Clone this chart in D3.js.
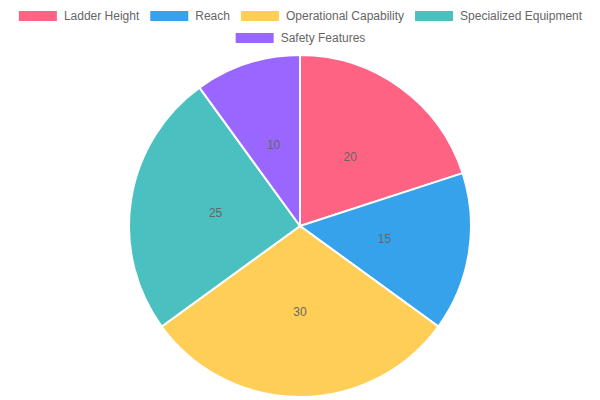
<!DOCTYPE html>
<html><head><meta charset="utf-8">
<script src="https://cdn.jsdelivr.net/npm/d3@7"></script>
<style>html,body{margin:0;padding:0;background:#fff;}svg{display:block;}</style>
</head><body>
<svg id="c" width="600" height="400"></svg>
<script>
const categories = ["Ladder Height", "Reach", "Operational Capability", "Specialized Equipment", "Safety Features"];
const values = [20, 15, 30, 25, 10];
const colors = ["#FF6384", "#36A2EB", "#FFCE56", "#4BC0C0", "#9966FF"];

const W = 600, H = 400;
const svg = d3.select("#c");
const font = "Helvetica Neue, Helvetica, Arial, Liberation Sans, sans-serif";

// Legend
const legend = svg.append("g");
const fs = 12, boxW = 40, pad = 10;
const items = categories.map((c, i) => {
  const t = legend.append("text").attr("font-family", font).attr("font-size", fs).attr("fill", "#666").text(c);
  const w = t.node().getComputedTextLength();
  return {c, i, t, w: boxW + fs / 2 + w};
});
const maxW = W - 20;
const rows = [];
let cur = [], curW = 0;
items.forEach(it => {
  const add = (cur.length ? pad : 0) + it.w;
  if (cur.length && curW + add > maxW) { rows.push({items: cur, w: curW}); cur = []; curW = 0; }
  curW += (cur.length ? pad : 0) + it.w;
  cur.push(it);
});
if (cur.length) rows.push({items: cur, w: curW});
rows.forEach((r, ri) => {
  let x = (W - r.w) / 2;
  const y = 10 + ri * (fs + pad);
  r.items.forEach(it => {
    legend.append("rect").attr("x", x).attr("y", y).attr("width", boxW).attr("height", fs)
      .attr("fill", colors[it.i]).attr("stroke", "#fff").attr("stroke-width", 2);
    it.t.attr("x", x + boxW + fs / 2).attr("y", y + fs / 2).attr("dominant-baseline", "central");
    x += it.w + pad;
  });
});

// Pie
const cx = 300, cy = 226, R = 171;
const g = svg.append("g").attr("transform", `translate(${cx},${cy})`);
const pie = d3.pie().sort(null).value(d => d)(values);
const arc = d3.arc().innerRadius(0).outerRadius(R);
g.selectAll("path").data(pie).join("path")
  .attr("d", arc).attr("fill", (d, i) => colors[i])
  .attr("stroke", "#fff").attr("stroke-width", 2);
const lab = d3.arc().innerRadius(R / 2).outerRadius(R / 2);
g.selectAll("text.v").data(pie).join("text").attr("class", "v")
  .attr("transform", d => { const [x, y] = lab.centroid(d); return `translate(${x},${y})`; })
  .attr("text-anchor", "middle").attr("dominant-baseline", "central")
  .attr("font-family", font).attr("font-size", 12).attr("fill", "#666")
  .text(d => d.data);
</script>
</body></html>
